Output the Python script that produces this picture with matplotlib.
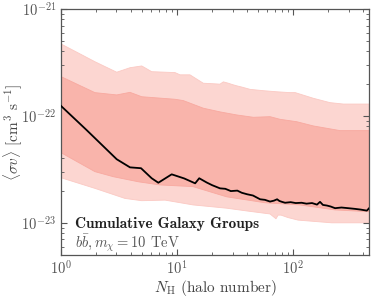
import numpy as np
import matplotlib
matplotlib.use("Agg")
import matplotlib.pyplot as plt

plt.rcParams['font.family'] = 'serif'
plt.rcParams['font.serif'] = ['cmr10']
plt.rcParams['mathtext.fontset'] = 'cm'
plt.rcParams['axes.formatter.use_mathtext'] = True

# Median (black line)
n_med = [1, 1.66, 3.02, 3.93, 4.89, 6.04, 6.89, 8.98, 11.5, 14.3, 15.5, 18, 20, 23.4, 26, 29,
         33, 36, 40, 45, 51.8, 57, 63.1, 68, 72.6, 76, 80, 85, 95, 105, 118, 130, 145, 160,
         170, 180, 195, 210, 229, 260, 298, 340, 380, 430, 450]
v_med = [12.4, 7.38, 3.93, 3.30, 3.24, 2.61, 2.37, 2.84, 2.60, 2.34, 2.61, 2.38, 2.25, 2.10,
         2.08, 1.98, 2.00, 1.91, 1.85, 1.80, 1.66, 1.64, 1.58, 1.61, 1.66, 1.60, 1.57, 1.54,
         1.56, 1.53, 1.54, 1.51, 1.53, 1.48, 1.57, 1.47, 1.45, 1.42, 1.37, 1.39, 1.37, 1.35,
         1.33, 1.30, 1.37]
v_med = [v * 1e-23 for v in v_med]

# 68% band
n_dark_up = [1, 1.96, 3.02, 3.93, 4.96, 9.59, 11.3, 16.8, 23.4, 32.6, 45.3, 63.1, 76.9,
             107, 149, 253, 450]
v_dark_up = [2.33e-22, 1.65e-22, 1.57e-22, 1.66e-22, 1.51e-22, 1.43e-22, 1.39e-22,
             1.18e-22, 1.09e-22, 1.02e-22, 9.70e-23, 9.83e-23, 9.29e-23, 8.82e-23,
             8.05e-23, 7.28e-23, 7.28e-23]
n_dark_lo = [1, 1.96, 2.82, 4.63, 7.12, 13.7, 26.7, 57.2, 114, 229, 450]
v_dark_lo = [4.53e-23, 3.01e-23, 2.70e-23, 2.42e-23, 2.26e-23, 2.18e-23, 1.75e-23,
             1.54e-23, 1.47e-23, 1.32e-23, 1.27e-23]

# 95% band
n_light_up = [1, 1.96, 3.02, 3.93, 4.96, 6.04, 9.59, 10.6, 12.9, 16.8, 20, 23.4, 25, 27.6,
              30, 32.6, 36, 42.5, 55.3, 72.1, 93.8, 104, 149, 207, 270, 450]
v_light_up = [4.71e-22, 3.21e-22, 2.56e-22, 2.82e-22, 2.93e-22, 2.59e-22, 2.54e-22,
              2.42e-22, 2.42e-22, 2.02e-22, 2.00e-22, 1.98e-22, 2.08e-22, 2.02e-22,
              1.96e-22, 1.91e-22, 1.86e-22, 1.77e-22, 1.72e-22, 1.68e-22, 1.65e-22,
              1.65e-22, 1.46e-22, 1.33e-22, 1.29e-22, 1.29e-22]
n_light_lo = [1, 1.96, 3.56, 4.96, 7.87, 13.7, 26.7, 40, 63.1, 71, 74, 78.5, 90, 110, 214, 450]
v_light_lo = [2.64e-23, 2.10e-23, 1.69e-23, 1.61e-23, 1.63e-23, 1.47e-23, 1.37e-23,
              1.29e-23, 1.21e-23, 1.09e-23, 1.18e-23, 1.18e-23, 1.12e-23, 1.06e-23,
              1.00e-23, 1.00e-23]

x_ticks = [1, 10, 100]
y_ticks = [1e-23, 1e-22, 1e-21]

fig = plt.figure(figsize=(3.74, 2.98), dpi=100)
ax = fig.add_axes([0.163, 0.1443, 0.824, 0.8257])

ax.fill(np.concatenate([n_light_up, n_light_lo[::-1]]),
        np.concatenate([v_light_up, v_light_lo[::-1]]),
        color='#fcd6d1', lw=0.6, ec='#fbc9c3', zorder=1)
ax.fill(np.concatenate([n_dark_up, n_dark_lo[::-1]]),
        np.concatenate([v_dark_up, v_dark_lo[::-1]]),
        color='#f9b4ab', lw=0.6, ec='#f8a9a0', zorder=2)
ax.plot(n_med, v_med, color='black', lw=1.3, zorder=3)

ax.set_xscale('log')
ax.set_yscale('log')
ax.set_xticks(x_ticks)
ax.set_yticks(y_ticks)
ax.set_xlim(1, 450)
ax.set_ylim(5e-24, 1e-21)

ax.tick_params(which='both', direction='in', top=True, right=True,
               colors='#555555', labelcolor='#555555', labelsize=10.5)
ax.tick_params(which='major', length=4, width=0.8)
ax.tick_params(which='minor', length=2, width=0.6)
for s in ax.spines.values():
    s.set_color('#555555')
    s.set_linewidth(0.9)

ax.set_xlabel(r'$N_{\rm H}$ (halo number)', fontsize=11, color='#444444')
ax.set_ylabel(r'$\langle\sigma v\rangle$ [cm$^3$ s$^{-1}$]', fontsize=11, color='#444444')
ax.xaxis.set_label_coords(0.5, -0.092)
ax.yaxis.set_label_coords(-0.12, 0.5)

ax.text(0.045, 0.125, 'Cumulative Galaxy Groups', transform=ax.transAxes,
        fontfamily='cmb10', fontsize=11, color='#222222', va='center', zorder=5)
ax.text(0.045, 0.05, r'$b\bar{b}, m_\chi = 10$ TeV', transform=ax.transAxes,
        fontsize=10.5, color='#555555', va='center', zorder=5)

fig.savefig('out.png', dpi=100)
